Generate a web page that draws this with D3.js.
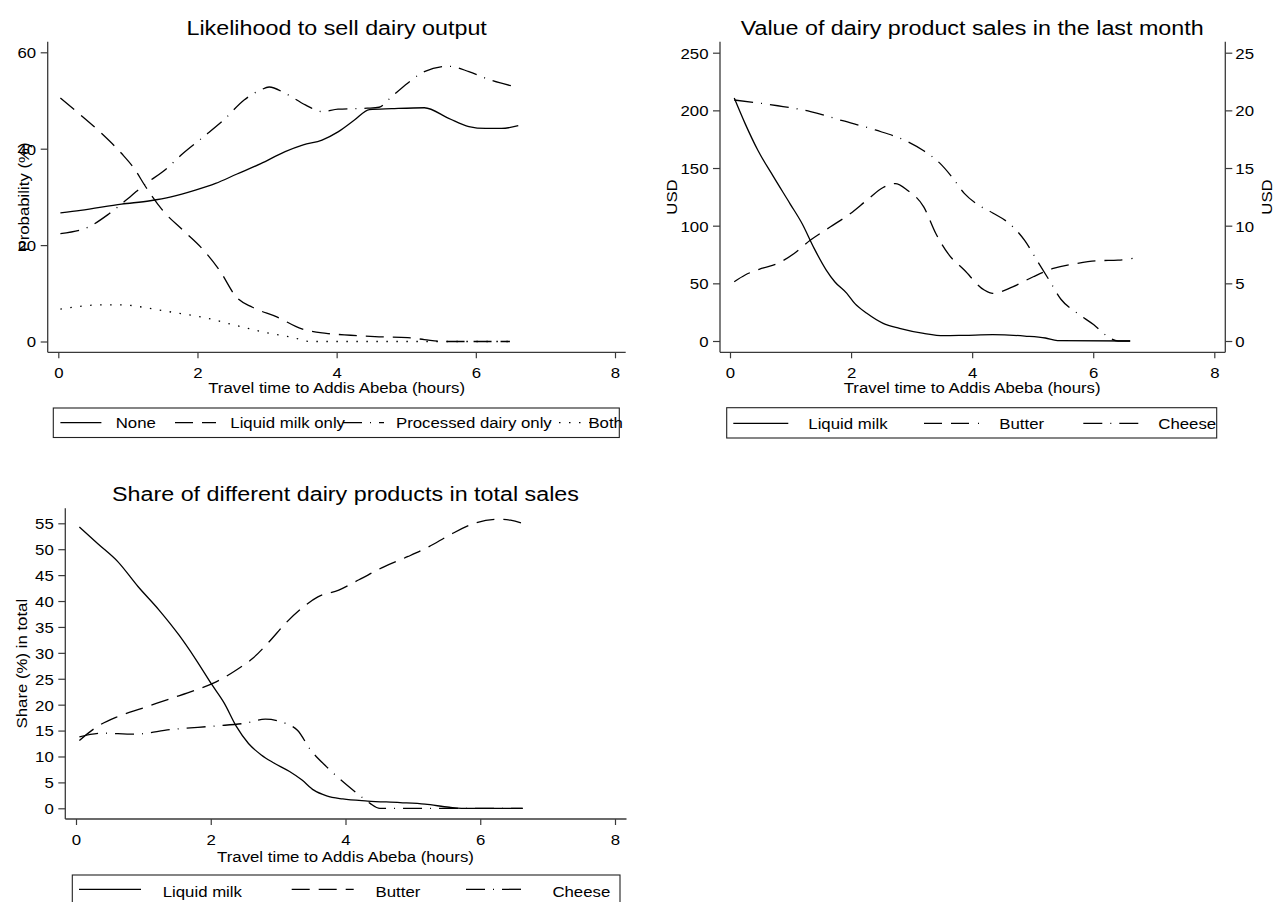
<!DOCTYPE html>
<html>
<head>
<meta charset="utf-8">
<script src="https://cdn.jsdelivr.net/npm/d3@7"></script>
<style>
  body { margin: 0; background: #fff; }
  svg text { font-family: "Liberation Sans", Arial, Helvetica, sans-serif; fill: #000; }
</style>
</head>
<body>
<svg id="chart" width="1275" height="902"></svg>
<script>
// ---- Data: [travel time (hours), value] ----
const travelTicks = [0, 2, 4, 6, 8];

// Likelihood to sell dairy output (probability, %)
const sellNone = [[0.03,26.7],[0.32,27.2],[0.91,28.5],[1.32,29.2],[1.62,30.0],[1.97,31.4],[2.26,32.8],[2.56,34.7],[2.91,36.9],[3.26,39.4],[3.52,40.8],[3.79,41.8],[4.02,43.5],[4.26,46.0],[4.47,48.1],[4.79,48.3],[5.26,48.5],[5.61,46.3],[5.90,44.6],[6.14,44.2],[6.37,44.2],[6.61,44.8]];
const sellMilkOnly = [[0.03,50.5],[0.32,47.0],[0.62,43.2],[0.91,39.0],[1.09,35.9],[1.26,32.0],[1.50,27.2],[1.79,23.1],[2.09,18.9],[2.32,14.7],[2.56,9.2],[2.79,7.1],[3.14,5.1],[3.50,2.6],[3.85,1.7],[4.20,1.3],[4.55,1.0],[5.02,0.8],[5.26,0.4],[5.55,0.0],[6.49,0.0]];
const sellProcessedOnly = [[0.03,22.4],[0.44,23.8],[0.73,26.5],[1.03,30.0],[1.26,32.8],[1.50,35.2],[1.79,39.0],[2.09,42.5],[2.38,46.0],[2.67,50.1],[2.91,52.2],[3.03,52.8],[3.26,51.5],[3.55,49.1],[3.79,47.7],[4.02,48.2],[4.44,48.4],[4.61,48.6],[4.79,50.8],[5.02,53.6],[5.26,56.0],[5.61,57.1],[5.90,56.0],[6.20,54.3],[6.58,52.8]];
const sellBoth = [[0.03,6.7],[0.62,7.6],[0.91,7.6],[1.38,6.7],[1.67,6.0],[2.09,5.0],[2.56,3.3],[2.97,1.9],[3.38,0.8],[3.61,0.0],[6.49,0.0]];
const sellTicks = [0, 20, 40, 60];
const sellLabels = ["None", "Liquid milk only", "Processed dairy only", "Both"];

// Value of dairy product sales in the last month (USD)
const valueMilk = [[0.07,210.7],[0.25,188.5],[0.46,165.4],[0.72,142.3],[0.99,119.2],[1.19,101.9],[1.39,80.3],[1.59,61.5],[1.73,51.4],[1.93,41.3],[2.06,32.6],[2.26,24.0],[2.53,15.3],[2.80,11.0],[3.20,6.6],[3.53,4.6],[3.87,4.9],[4.34,5.5],[4.87,4.3],[5.21,2.6],[5.41,0.3],[6.61,0.0]];
const valueButter = [[0.07,51.4],[0.25,57.2],[0.52,62.9],[0.79,67.3],[1.06,75.9],[1.33,87.5],[1.66,99.0],[1.99,110.6],[2.26,122.1],[2.53,133.1],[2.73,136.5],[2.93,130.8],[3.20,116.3],[3.40,93.2],[3.60,75.9],[3.87,61.5],[4.20,44.2],[4.34,41.3],[4.67,47.0],[5.01,55.7],[5.34,62.9],[5.74,67.3],[6.08,69.6],[6.41,70.1],[6.65,71.6]];
// cheese is read on the right-hand axis
const valueCheese = [[0.07,20.9],[0.79,20.4],[1.33,19.9],[1.86,19.1],[2.40,18.3],[2.93,17.3],[3.20,16.5],[3.47,15.4],[3.67,14.2],[3.87,12.8],[4.07,11.9],[4.34,11.1],[4.61,10.2],[4.87,8.7],[5.07,7.0],[5.27,5.3],[5.47,3.6],[5.74,2.4],[6.01,1.4],[6.21,0.5],[6.41,0.0],[6.61,0.0]];
const valueTicks = [0, 50, 100, 150, 200, 250];
const valueRightTicks = [0, 5, 10, 15, 20, 25];
const productLabels = ["Liquid milk", "Butter", "Cheese"];

// Share of different dairy products in total sales (%)
const shareMilk = [[0.05,54.3],[0.32,51.1],[0.62,47.6],[0.92,42.8],[1.23,38.3],[1.53,33.4],[1.77,28.9],[2.02,23.8],[2.20,20.3],[2.38,15.8],[2.56,12.5],[2.75,10.3],[2.93,8.8],[3.17,7.1],[3.35,5.5],[3.53,3.5],[3.72,2.4],[3.96,1.8],[4.33,1.4],[4.81,1.1],[5.18,0.8],[5.54,0.2],[5.72,0.0],[6.63,0.0]];
const shareButter = [[0.05,13.1],[0.32,15.8],[0.62,17.7],[0.98,19.3],[1.41,21.2],[1.77,22.8],[2.08,24.4],[2.38,26.7],[2.62,28.9],[2.87,32.2],[3.11,35.7],[3.35,38.6],[3.59,40.8],[3.90,42.1],[4.20,44.1],[4.57,46.6],[4.93,48.6],[5.24,50.5],[5.54,52.7],[5.91,55.0],[6.27,55.8],[6.45,55.6],[6.63,55.0]];
const shareCheese = [[0.05,13.8],[0.38,14.5],[0.86,14.3],[1.41,15.2],[2.08,15.9],[2.50,16.4],[2.81,17.2],[3.11,16.4],[3.29,15.0],[3.48,11.3],[3.72,8.0],[4.02,4.5],[4.20,2.6],[4.36,1.0],[4.51,0.0],[6.63,0.0]];
const shareTicks = [0, 5, 10, 15, 20, 25, 30, 35, 40, 45, 50, 55];

// ---- Styling ----
const SX = 1.12;            // horizontal stretch of the sans-serif glyphs
const FS = 15;              // axis / legend text size
const TITLE_FS = 20.8;
const AXIS_COLOR = "#3a3a3a";
const DASH = {
  solid: null,
  dash: "18,9",
  dashdot: "19,8,1,8",
  dot: "1.5,8.5"
};

const svg = d3.select("#chart");

function addText(g, str, x, y, opt = {}) {
  const rot = opt.rotate ? ` rotate(${opt.rotate})` : "";
  return g.append("text")
    .attr("transform", `translate(${x},${y})${rot} scale(${SX},1)`)
    .attr("text-anchor", opt.anchor || "middle")
    .attr("font-size", opt.size || FS)
    .text(str);
}

function styleAxis(g) {
  g.select(".domain").remove();
  g.selectAll(".tick line").attr("stroke", AXIS_COLOR).attr("stroke-width", 1.2);
}

function panel(cfg) {
  const g = svg.append("g");
  const r = cfg.region;
  const x = d3.scaleLinear().domain([0, 8]).range(cfg.xRange);
  const y = d3.scaleLinear().domain(cfg.yDomain).range(cfg.yRange);

  // axis lines spanning the plot region
  g.append("line").attr("x1", r.left).attr("x2", r.left).attr("y1", r.top).attr("y2", r.bottom)
    .attr("stroke", AXIS_COLOR).attr("stroke-width", 1.3);
  g.append("line").attr("x1", r.left).attr("x2", r.right).attr("y1", r.bottom).attr("y2", r.bottom)
    .attr("stroke", AXIS_COLOR).attr("stroke-width", 1.3);

  // bottom axis
  const gx = g.append("g").attr("transform", `translate(0,${r.bottom})`)
    .call(d3.axisBottom(x).tickValues(travelTicks).tickSize(6).tickFormat(d3.format("d")));
  styleAxis(gx);
  gx.selectAll(".tick text").attr("y", null).attr("dy", null)
    .attr("font-size", FS).attr("fill", "#000")
    .attr("transform", `translate(0,25.5) scale(${SX},1)`);

  // left axis
  const gy = g.append("g").attr("transform", `translate(${r.left},0)`)
    .call(d3.axisLeft(y).tickValues(cfg.yTicks).tickSize(7).tickFormat(d3.format("d")));
  styleAxis(gy);
  gy.selectAll(".tick text").attr("x", null).attr("dy", "0.36em")
    .attr("font-size", FS).attr("fill", "#000")
    .attr("transform", `translate(-11.5,0) scale(${SX},1)`);

  let y2 = null;
  if (cfg.y2Domain) {
    y2 = d3.scaleLinear().domain(cfg.y2Domain).range(cfg.yRange);
    g.append("line").attr("x1", r.right).attr("x2", r.right).attr("y1", r.top).attr("y2", r.bottom)
      .attr("stroke", AXIS_COLOR).attr("stroke-width", 1.3);
    const gy2 = g.append("g").attr("transform", `translate(${r.right},0)`)
      .call(d3.axisRight(y2).tickValues(cfg.y2Ticks).tickSize(7).tickFormat(d3.format("d")));
    styleAxis(gy2);
    gy2.selectAll(".tick text").attr("x", null).attr("dy", "0.36em")
      .attr("font-size", FS).attr("fill", "#000")
      .attr("transform", `translate(10,0) scale(${SX},1)`);
    addText(g, cfg.y2Title, cfg.y2TitleX, (r.top + r.bottom) / 2, { rotate: -90 });
  }

  // titles
  const cx = (cfg.xRange[0] + cfg.xRange[1]) / 2;
  addText(g, cfg.title, cx, cfg.titleY, { size: TITLE_FS });
  addText(g, "Travel time to Addis Abeba (hours)", cx, cfg.xTitleY);
  addText(g, cfg.yTitle, cfg.yTitleX, (r.top + r.bottom) / 2, { rotate: -90 });

  // series
  cfg.series.forEach(s => {
    const ys = s.right ? y2 : y;
    const line = d3.line().x(d => x(d[0])).y(d => ys(d[1])).curve(d3.curveMonotoneX);
    g.append("path").datum(s.data)
      .attr("d", line)
      .attr("fill", "none")
      .attr("stroke", "#000")
      .attr("stroke-width", 1.3)
      .attr("stroke-dasharray", DASH[s.dash]);
  });

  // legend
  const L = cfg.legend;
  const lg = g.append("g");
  lg.append("rect").attr("x", L.left).attr("y", L.top)
    .attr("width", L.right - L.left).attr("height", L.bottom - L.top)
    .attr("fill", "#fff").attr("stroke", "#222").attr("stroke-width", 1.1);
  cfg.series.forEach((s, i) => {
    lg.append("line")
      .attr("x1", L.keyX[i]).attr("x2", L.keyX[i] + L.keyLen)
      .attr("y1", L.keyY).attr("y2", L.keyY)
      .attr("stroke", "#000").attr("stroke-width", 1.3)
      .attr("stroke-dasharray", DASH[s.dash]);
    addText(lg, s.label, L.textX[i], L.textY, { anchor: "start" });
  });
}

panel({
  title: "Likelihood to sell dairy output",
  titleY: 35,
  region: { left: 47.7, right: 625.7, top: 41.7, bottom: 352.3 },
  xRange: [58.3, 615],
  yDomain: [0, 60], yRange: [341.5, 52.3], yTicks: sellTicks,
  yTitle: "Probability (%)", yTitleX: 28.5,
  xTitleY: 393,
  series: [
    { label: sellLabels[0], data: sellNone, dash: "solid" },
    { label: sellLabels[1], data: sellMilkOnly, dash: "dash" },
    { label: sellLabels[2], data: sellProcessedOnly, dash: "dashdot" },
    { label: sellLabels[3], data: sellBoth, dash: "dot" }
  ],
  legend: { left: 53.3, right: 619.3, top: 408, bottom: 437.5,
            keyY: 422.7, textY: 428.2, keyLen: 41,
            keyX: [60.4, 175, 343, 549], textX: [115.7, 230.3, 396, 588.4] }
});

panel({
  title: "Value of dairy product sales in the last month",
  titleY: 35,
  region: { left: 720, right: 1225.3, top: 41.7, bottom: 352.3 },
  xRange: [730, 1214.3],
  yDomain: [0, 250], yRange: [341, 52.7], yTicks: valueTicks,
  y2Domain: [0, 25], y2Ticks: valueRightTicks, y2Title: "USD", y2TitleX: 1271.5,
  yTitle: "USD", yTitleX: 677,
  xTitleY: 393,
  series: [
    { label: productLabels[0], data: valueMilk, dash: "solid" },
    { label: productLabels[1], data: valueButter, dash: "dash" },
    { label: productLabels[2], data: valueCheese, dash: "dashdot", right: true }
  ],
  legend: { left: 726.7, right: 1216.7, top: 407.7, bottom: 438,
            keyY: 423.3, textY: 428.6, keyLen: 55,
            keyX: [733.3, 924, 1083.3], textX: [808.3, 999.3, 1158.3] }
});

panel({
  title: "Share of different dairy products in total sales",
  titleY: 500.7,
  region: { left: 65.3, right: 626.5, top: 508.3, bottom: 819 },
  xRange: [76, 615],
  yDomain: [0, 55], yRange: [808.3, 523.3], yTicks: shareTicks,
  yTitle: "Share (%) in total", yTitleX: 26.5,
  xTitleY: 861.7,
  series: [
    { label: productLabels[0], data: shareMilk, dash: "solid" },
    { label: productLabels[1], data: shareButter, dash: "dash" },
    { label: productLabels[2], data: shareCheese, dash: "dashdot" }
  ],
  legend: { left: 72.3, right: 620, top: 875, bottom: 910,
            keyY: 889.3, textY: 896.7, keyLen: 62,
            keyX: [79, 291.7, 466], textX: [162.7, 375.6, 552.4] }
});
</script>
</body>
</html>
